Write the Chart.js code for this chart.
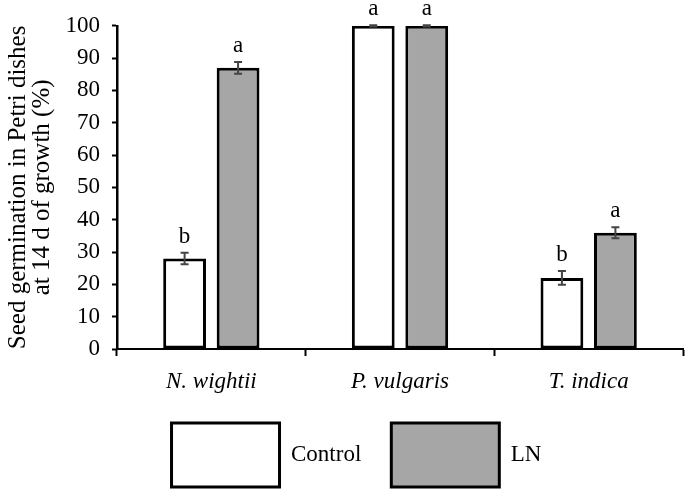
<!DOCTYPE html>
<html>
<head>
<meta charset="utf-8">
<script src="https://cdn.jsdelivr.net/npm/chart.js@4.4.1/dist/chart.umd.min.js"></script>
<style>
  html, body { margin: 0; padding: 0; background: #fff; }
  #wrap { width: 685px; height: 491px; }
</style>
</head>
<body>
<div id="wrap"><canvas id="germChart" width="685" height="491"></canvas></div>
<script>
// Species on the x axis
const species = ['N. wightii', 'P. vulgaris', 'T. indica'];

// Germination (%) after 14 d, with standard errors
const controlValues = [28, 100, 22];
const controlErrors = [1.8, 0.2, 2.1];
const lnValues = [87, 100, 36];
const lnErrors = [1.8, 0.2, 1.7];

// Significance letters above each bar
const controlLetters = ['b', 'a', 'b'];
const lnLetters = ['a', 'a', 'a'];

// y axis ticks
const yMin = 0;
const yMax = 100;
const yStep = 10;

const serif = "'Liberation Serif', 'Times New Roman', serif";
Chart.defaults.font.family = serif;
Chart.defaults.color = '#000';

// Draws error bars and the letters over them
const errorBarPlugin = {
    id: 'errorBars',
    afterDatasetsDraw(chart) {
        const ctx = chart.ctx;
        const yScale = chart.scales.y;
        chart.data.datasets.forEach((ds, i) => {
            const meta = chart.getDatasetMeta(i);
            meta.data.forEach((bar, j) => {
                const val = ds.data[j];
                const err = ds.errors[j];
                const yTop = yScale.getPixelForValue(val + err);
                const yBot = yScale.getPixelForValue(val - err);
                ctx.save();
                ctx.strokeStyle = '#444';
                ctx.lineWidth = 2;
                ctx.beginPath();
                ctx.moveTo(bar.x, yTop);
                ctx.lineTo(bar.x, yBot);
                ctx.moveTo(bar.x - 4, yTop);
                ctx.lineTo(bar.x + 4, yTop);
                ctx.moveTo(bar.x - 4, yBot);
                ctx.lineTo(bar.x + 4, yBot);
                ctx.stroke();

                ctx.fillStyle = '#000';
                ctx.font = '23px ' + serif;
                ctx.textAlign = 'center';
                ctx.textBaseline = 'alphabetic';
                ctx.fillText(ds.letters[j], bar.x, yTop - 10);
                ctx.restore();
            });
        });
    }
};

// nudge the legend to sit under the plot like in the figure
const legendShift = {
    id: 'legendShift',
    afterLayout(chart) {
        chart.legend.left += 24;
    }
};

new Chart(document.getElementById('germChart'), {
    type: 'bar',
    data: {
        labels: species,
        datasets: [{
            label: 'Control',
            data: controlValues,
            errors: controlErrors,
            letters: controlLetters,
            backgroundColor: '#ffffff',
            borderColor: '#000000',
            borderWidth: 3,
            borderSkipped: false,
            categoryPercentage: 0.567,
            barPercentage: 0.8
        }, {
            label: 'LN',
            data: lnValues,
            errors: lnErrors,
            letters: lnLetters,
            backgroundColor: '#a6a6a6',
            borderColor: '#000000',
            borderWidth: 3,
            borderSkipped: false,
            categoryPercentage: 0.567,
            barPercentage: 0.8
        }]
    },
    options: {
        responsive: false,
        animation: false,
        devicePixelRatio: 1,
        layout: {
            padding: { top: 25, left: 6, right: 2, bottom: -6 }
        },
        plugins: {
            legend: {
                position: 'bottom',
                labels: {
                    boxWidth: 108,
                    boxHeight: 64,
                    padding: 30,
                    font: { size: 23, family: serif },
                    color: '#000'
                }
            },
            tooltip: { enabled: false }
        },
        scales: {
            x: {
                grid: {
                    offset: true,
                    drawOnChartArea: false,
                    tickLength: 7,
                    tickWidth: 2,
                    tickColor: '#000'
                },
                border: { color: '#000', width: 2 },
                ticks: {
                    padding: 12,
                    font: { size: 23, style: 'italic', family: serif },
                    color: '#000'
                },
                afterFit(scale) { scale.height = 44; }
            },
            y: {
                min: yMin,
                max: yMax,
                ticks: {
                    stepSize: yStep,
                    padding: 12,
                    font: { size: 23, family: serif },
                    color: '#000'
                },
                grid: {
                    drawOnChartArea: false,
                    tickLength: 5,
                    tickWidth: 2,
                    tickColor: '#000'
                },
                border: { color: '#000', width: 2.5 },
                title: {
                    display: true,
                    text: ['Seed germination in Petri dishes', 'at 14 d of growth (%)'],
                    font: { size: 25, family: serif, lineHeight: 0.96 },
                    color: '#000',
                    padding: { top: 0, bottom: 8 }
                },
                afterFit(scale) { scale.width = 111; }
            }
        }
    },
    plugins: [errorBarPlugin, legendShift]
});
</script>
</body>
</html>
